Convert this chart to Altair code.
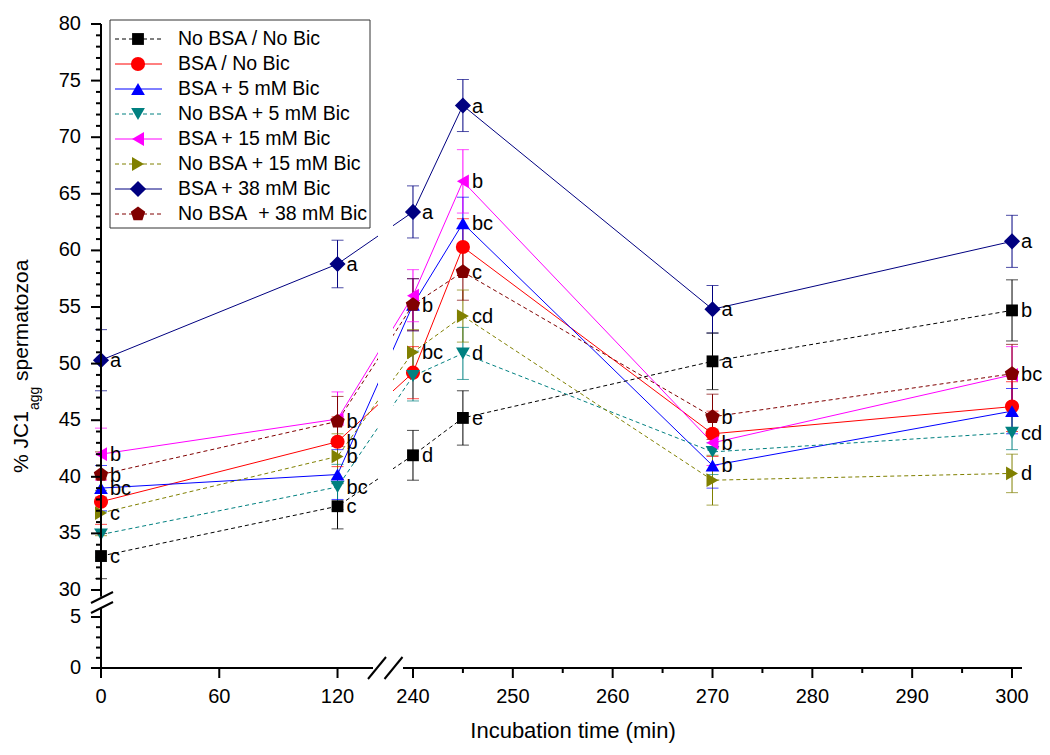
import altair as alt
import pandas as pd

# ---------------- data ----------------
times = [0, 120, 240, 245, 270, 300]

series_names = [
    "No BSA / No Bic",
    "BSA / No Bic",
    "BSA + 5 mM Bic",
    "No BSA + 5 mM Bic",
    "BSA + 15 mM Bic",
    "No BSA + 15 mM Bic",
    "BSA + 38 mM Bic",
    "No BSA\u00a0 + 38 mM Bic",
]

v_nobsa_nobic = [33.0, 37.4, 41.9, 45.2, 50.2, 54.7]
v_bsa_nobic = [37.8, 43.1, 49.2, 60.3, 43.8, 46.2]
v_bsa_5 = [39.0, 40.2, 55.2, 62.4, 41.0, 45.8]
v_nobsa_5 = [34.9, 39.1, 48.9, 50.9, 42.2, 43.9]
v_bsa_15 = [42.0, 45.1, 56.0, 66.1, 43.0, 49.0]
v_nobsa_15 = [36.8, 41.8, 51.0, 54.2, 39.7, 40.3]
v_bsa_38 = [50.3, 58.8, 63.4, 72.8, 54.8, 60.8]
v_nobsa_38 = [40.2, 44.9, 55.2, 58.1, 45.3, 49.1]

e_nobsa_nobic = [2.0, 2.0, 2.2, 2.4, 2.5, 2.7]
e_bsa_nobic = [2.0, 2.2, 2.3, 2.5, 2.0, 2.2]
e_bsa_5 = [2.0, 2.2, 2.3, 2.3, 2.0, 2.0]
e_nobsa_5 = [2.0, 2.0, 2.2, 2.3, 2.0, 1.5]
e_bsa_15 = [2.3, 2.4, 2.3, 2.8, 2.0, 2.5]
e_nobsa_15 = [2.0, 2.0, 2.0, 2.3, 2.2, 1.7]
e_bsa_38 = [2.7, 2.1, 2.3, 2.3, 2.1, 2.3]
e_nobsa_38 = [2.0, 2.2, 2.3, 2.5, 2.0, 2.6]

l_nobsa_nobic = ["c", "c", "d", "e", "a", "b"]
l_bsa_nobic = ["", "b", "", "", "", ""]
l_bsa_5 = ["bc", "", "", "bc", "b", ""]
l_nobsa_5 = ["", "bc", "c", "d", "", "cd"]
l_bsa_15 = ["b", "", "", "b", "b", ""]
l_nobsa_15 = ["c", "b", "bc", "cd", "", "d"]
l_bsa_38 = ["a", "a", "a", "a", "a", "a"]
l_nobsa_38 = ["b", "b", "b", "c", "b", "bc"]

values = [v_nobsa_nobic, v_bsa_nobic, v_bsa_5, v_nobsa_5, v_bsa_15, v_nobsa_15, v_bsa_38, v_nobsa_38]
errors = [e_nobsa_nobic, e_bsa_nobic, e_bsa_5, e_nobsa_5, e_bsa_15, e_nobsa_15, e_bsa_38, e_nobsa_38]
letters = [l_nobsa_nobic, l_bsa_nobic, l_bsa_5, l_nobsa_5, l_bsa_15, l_nobsa_15, l_bsa_38, l_nobsa_38]

colors = ["#000000", "#ff0000", "#0000ff", "#008080", "#ff00ff", "#808000", "#000080", "#800000"]
PENT = "M0,-1L0.951,-0.309L0.588,0.809L-0.588,0.809L-0.951,-0.309Z"
shapes = ["square", "circle", "triangle-up", "triangle-down", "triangle-left", "triangle-right", "diamond", PENT]
sizes = [140, 200, 190, 190, 190, 190, 260, 230]
dashed = [True, False, False, True, False, True, False, True]

x_major = [0, 60, 120, 240, 250, 260, 270, 280, 290, 300]
x_minor = [245, 255, 265, 275, 285, 295]
y_major = [0, 5, 30, 35, 40, 45, 50, 55, 60, 65, 70, 75, 80]
y_minor = [1, 2, 3, 4] + [v for v in range(31, 80) if v % 5 != 0]

# ---------------- layout ----------------
FONT = "Liberation Sans"
W, H = 921, 644
PAD = {"left": 93, "top": 16, "right": 20, "bottom": 79}

rows = []
for i, name in enumerate(series_names):
    for j, t in enumerate(times):
        v = values[i][j]
        e = errors[i][j]
        rows.append(dict(s=name, order=i, t=t, v=v, lo=v - e, hi=v + e,
                         lab=letters[i][j], col=colors[i], shape=shapes[i],
                         sz=sizes[i], dashed=dashed[i]))
df = pd.DataFrame(rows)

xs = alt.Scale(domain=[0, 138, 239, 301], range=[0, 272, 302, 921], nice=False, zero=False)
ys = alt.Scale(domain=[0, 5.9, 29.4, 80], range=[644, 583.8, 572.8, 0], nice=False, zero=False)


def X(field="t:Q"):
    return alt.X(field, scale=xs, axis=None)


def Y(field="v:Q"):
    return alt.Y(field, scale=ys, axis=None)


COL = alt.Color("col:N", scale=None)

solid_lines = alt.Chart(df[~df.dashed]).mark_line(strokeWidth=1).encode(
    x=X(), y=Y(), color=COL, detail="s:N")
dash_lines = alt.Chart(df[df.dashed]).mark_line(strokeWidth=1, strokeDash=[4, 3]).encode(
    x=X(), y=Y(), color=COL, detail="s:N")

err = alt.Chart(df).mark_rule(strokeWidth=1).encode(x=X(), y=Y("lo:Q"), y2="hi:Q", color=COL)
cap_lo = alt.Chart(df).mark_tick(orient="horizontal", size=12, thickness=1).encode(
    x=X(), y=Y("lo:Q"), color=COL)
cap_hi = alt.Chart(df).mark_tick(orient="horizontal", size=12, thickness=1).encode(
    x=X(), y=Y("hi:Q"), color=COL)

one = pd.DataFrame({"k": [0]})


def deco_rule(x1, y1, x2, y2, color="black", width=2, dash=None):
    kw = dict(strokeWidth=width, color=color)
    if dash:
        kw["strokeDash"] = dash
    return alt.Chart(one).mark_rule(**kw).encode(
        x=alt.value(x1), y=alt.value(y1), x2=alt.value(x2), y2=alt.value(y2))


def deco_text(txt, x, y, size, align="left", angle=0, baseline="middle"):
    kw = dict(fontSize=size, font=FONT, color="black", align=align, baseline=baseline)
    if angle:
        kw["angle"] = angle
    return alt.Chart(one).mark_text(**kw).encode(x=alt.value(x), y=alt.value(y), text=alt.value(txt))


gap = alt.Chart(one).mark_rect(color="white").encode(
    x=alt.value(277), x2=alt.value(292), y=alt.value(0), y2=alt.value(H))

points = alt.Chart(df).mark_point(filled=True, opacity=1).encode(
    x=X(), y=Y(), color=COL,
    shape=alt.Shape("shape:N", scale=None),
    size=alt.Size("sz:Q", scale=None),
    order="order:Q")

labels = alt.Chart(df[df.lab != ""]).mark_text(
    align="left", baseline="middle", dx=9, dy=1, fontSize=20, font=FONT, color="black"
).encode(x=X(), y=Y(), text="lab:N")

# axis lines (broken)
xseg = pd.DataFrame({"a": [0, 239], "b": [138, 301], "z": [0, 0]})
yseg = pd.DataFrame({"a": [0, 29.4], "b": [5.9, 80], "z": [0, 0]})
xline = alt.Chart(xseg).mark_rule(strokeWidth=2, color="black").encode(
    x=X("a:Q"), x2="b:Q", y=Y("z:Q"))
yline = alt.Chart(yseg).mark_rule(strokeWidth=2, color="black").encode(
    y=Y("a:Q"), y2="b:Q", x=X("z:Q"))

# ticks and tick labels drawn through the scales
xt_major = pd.DataFrame({"t": x_major, "lab": [str(v) for v in x_major]})
xt_minor = pd.DataFrame({"t": x_minor})
yt_major = pd.DataFrame({"v": y_major, "lab": [str(v) for v in y_major]})
yt_minor = pd.DataFrame({"v": y_minor})

xtick_maj = alt.Chart(xt_major).mark_rule(strokeWidth=2, color="black").encode(
    x=X(), y=alt.value(H), y2=alt.value(H + 10))
xtick_min = alt.Chart(xt_minor).mark_rule(strokeWidth=2, color="black").encode(
    x=X(), y=alt.value(H), y2=alt.value(H + 5))
xtick_lab = alt.Chart(xt_major).mark_text(fontSize=20, font=FONT, color="black", align="center",
                                          baseline="middle").encode(
    x=X(), y=alt.value(H + 29), text="lab:N")
ytick_maj = alt.Chart(yt_major).mark_rule(strokeWidth=2, color="black").encode(
    y=Y(), x=alt.value(0), x2=alt.value(-10))
ytick_min = alt.Chart(yt_minor).mark_rule(strokeWidth=2, color="black").encode(
    y=Y(), x=alt.value(0), x2=alt.value(-5))
ytick_lab = alt.Chart(yt_major).mark_text(fontSize=20, font=FONT, color="black", align="right",
                                          baseline="middle").encode(
    y=Y(), x=alt.value(-20), text="lab:N")

layers = [solid_lines, dash_lines, err, cap_lo, cap_hi, gap, points, labels,
          xline, yline, xtick_maj, xtick_min, xtick_lab, ytick_maj, ytick_min, ytick_lab]

# break marks
for cx in (276, 292.5):
    layers.append(deco_rule(cx - 9, H + 11, cx + 9, H - 11))
for cy in (573.5, 583.5):
    layers.append(deco_rule(1 - 11, cy + 5.5, 1 + 11, cy - 5.5))

# axis titles
layers.append(deco_text("Incubation time (min)", 472, 707, 22, align="center"))
layers.append(deco_text("% JC1", -79, 449, 21, angle=270))
layers.append(deco_text("agg", -66, 386, 14, angle=270))
layers.append(deco_text("spermatozoa", -79, 357, 21, angle=270))

# legend
LX0, LX1, LXM, LTX = 14, 61, 37, 77
LY0, LDY = 15, 25
layers.append(alt.Chart(one).mark_rect(fill="white", stroke="#333333", strokeWidth=1).encode(
    x=alt.value(9), x2=alt.value(269), y=alt.value(-4), y2=alt.value(204)))
for i, name in enumerate(series_names):
    ly = LY0 + LDY * i
    layers.append(deco_rule(LX0, ly, LX1, ly, color=colors[i], width=1,
                            dash=[4, 3] if dashed[i] else None))
    layers.append(alt.Chart(one).mark_point(filled=True, opacity=1).encode(
        x=alt.value(LXM), y=alt.value(ly), color=alt.value(colors[i]),
        shape=alt.value(shapes[i]), size=alt.value(sizes[i])))
    layers.append(deco_text(name, LTX, ly, 19.5))

chart = alt.layer(*layers).properties(
    width=W, height=H, padding=PAD, autosize="none", background="white"
).configure_view(stroke=None)

chart.save("out.html", embed_options={"renderer": "svg", "actions": False})
